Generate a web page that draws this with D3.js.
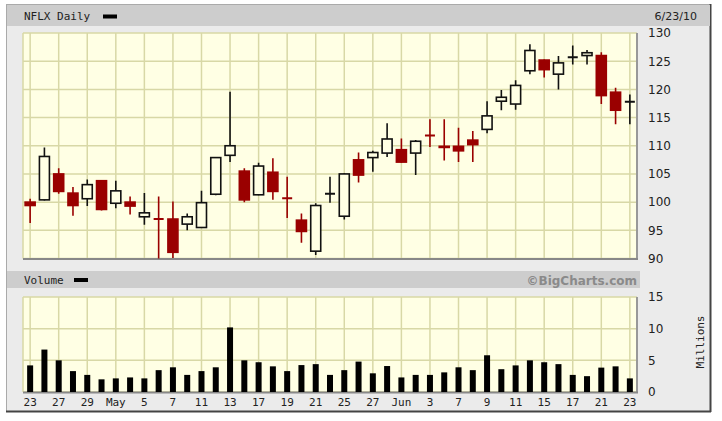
<!DOCTYPE html>
<html><head><meta charset="utf-8">
<script src="https://cdn.jsdelivr.net/npm/d3@7"></script>
<style>html,body{margin:0;padding:0;background:#fff;}svg{display:block;}</style>
</head><body><svg id="c" width="722" height="421"></svg>
<script>
const dates = ["2010-04-23","2010-04-26","2010-04-27","2010-04-28","2010-04-29","2010-04-30","2010-05-03","2010-05-04","2010-05-05","2010-05-06","2010-05-07","2010-05-10","2010-05-11","2010-05-12","2010-05-13","2010-05-14","2010-05-17","2010-05-18","2010-05-19","2010-05-20","2010-05-21","2010-05-24","2010-05-25","2010-05-26","2010-05-27","2010-05-28","2010-06-01","2010-06-02","2010-06-03","2010-06-04","2010-06-07","2010-06-08","2010-06-09","2010-06-10","2010-06-11","2010-06-14","2010-06-15","2010-06-16","2010-06-17","2010-06-18","2010-06-21","2010-06-22","2010-06-23"];
const open  = [100.0,100.4,105.0,101.6,100.6,103.8,99.8,100.0,97.4,97.1,97.0,96.1,95.5,101.4,108.3,105.5,101.3,105.3,100.8,96.8,91.3,101.4,97.5,107.5,107.9,108.7,109.3,108.7,111.9,109.9,109.9,111.0,112.9,117.9,117.4,123.3,125.2,122.7,125.6,126.0,126.0,119.5,117.7];
const high  = [100.6,109.7,106.0,102.7,104.0,103.9,103.8,101.0,101.6,101.0,100.1,98.0,102.0,108.0,119.6,106.0,107.0,107.8,104.5,98.0,99.8,104.5,105.1,108.8,109.1,114.0,111.3,111.0,114.7,114.7,113.2,112.6,117.9,119.9,121.6,128.0,125.3,125.9,127.8,127.0,126.6,120.3,119.1];
const low   = [96.3,100.3,101.5,97.6,99.3,98.5,98.9,97.8,96.0,88.0,90.1,95.0,95.4,101.2,107.1,100.0,101.2,100.4,97.2,92.8,90.6,99.9,96.9,103.5,105.4,108.0,107.0,104.8,109.8,107.4,107.1,107.1,112.2,116.3,116.4,122.7,122.1,120.0,124.4,124.4,117.4,113.8,113.8];
const close = [99.4,108.1,101.9,99.4,103.1,98.7,102.0,99.3,98.1,97.0,91.1,97.4,99.9,107.9,110.0,100.4,106.4,101.9,100.7,94.8,99.4,101.5,105.0,104.8,108.8,111.2,107.1,110.8,111.8,109.7,109.1,110.2,115.3,118.6,120.7,126.9,123.5,124.7,125.7,126.5,118.9,116.3,117.8];
const volume = [4.2,6.7,5.0,3.3,2.7,2.0,2.15,2.3,2.15,3.45,3.9,2.7,3.3,3.9,10.2,5.0,4.7,4.05,3.3,4.25,4.4,2.7,3.45,4.8,2.95,4.1,2.3,2.7,2.7,3.1,3.9,3.45,5.8,3.6,4.2,5.0,4.7,4.4,2.7,2.5,3.85,4.05,2.15];
const xTickLabels = ["23","27","29","May","5","7","11","13","17","19","21","25","27","Jun","3","7","9","11","15","17","21","23"];
const priceTicks = [90,95,100,105,110,115,120,125,130];
const volTicks = [0,5,10,15];

const svg = d3.select("#c");
const BG = "#ffffe4", GRID = "#d8d8a6", RED = "#9a0000", INK = "#111";
const L = 23, R = 637;
const pTop = 33, pBot = 258.5, vTop = 297, vBot = 392;

const x = d3.scaleBand().domain(dates).range([L, R]).paddingInner(0).paddingOuter(0);
const cx = d => x(d) + x.bandwidth() / 2;
const yP = d3.scaleLinear().domain([90, 130]).range([pBot, pTop]);
const yV = d3.scaleLinear().domain([0, 15]).range([vBot, vTop]);

// frame
svg.append("rect").attr("x", 6.5).attr("y", 4.5).attr("width", 704).attr("height", 407).attr("fill", "#ebebeb").attr("stroke", "#aaa");
svg.append("line").attr("x1", 710.5).attr("x2", 710.5).attr("y1", 4).attr("y2", 412).attr("stroke", "#444").attr("stroke-width", 2);
svg.append("line").attr("x1", 6).attr("x2", 711).attr("y1", 411.5).attr("y2", 411.5).attr("stroke", "#444").attr("stroke-width", 2);
// header bars
svg.append("rect").attr("x", 7).attr("y", 5).attr("width", 703).attr("height", 21).attr("fill", "#cdcdcd");
svg.append("rect").attr("x", 7).attr("y", 271).attr("width", 633).attr("height", 17).attr("fill", "#cdcdcd");

const mono = "'DejaVu Sans Mono', monospace", sans = "'DejaVu Sans', Verdana, sans-serif";
svg.append("text").attr("x", 24).attr("y", 20).attr("font-family", mono).attr("font-size", 11).attr("fill", "#222").text("NFLX Daily");
svg.append("rect").attr("x", 103).attr("y", 14.5).attr("width", 14).attr("height", 4).attr("fill", "#000");
svg.append("text").attr("x", 697).attr("y", 20).attr("text-anchor", "end").attr("font-family", sans).attr("font-size", 11).attr("fill", "#222").text("6/23/10");
svg.append("text").attr("x", 24).attr("y", 284).attr("font-family", mono).attr("font-size", 11).attr("fill", "#222").text("Volume");
svg.append("rect").attr("x", 74).attr("y", 278).attr("width", 14).attr("height", 4).attr("fill", "#000");
svg.append("text").attr("x", 637).attr("y", 284.5).attr("text-anchor", "end").attr("font-family", sans).attr("font-weight", "bold").attr("font-size", 12).attr("fill", "#8a8a8a").text("\u00A9BigCharts.com");

// panels
function panel(top, bot, yScale, ticks) {
  const g = svg.append("g");
  g.append("rect").attr("x", L).attr("y", top).attr("width", R - L).attr("height", bot - top).attr("fill", BG);
  g.selectAll(".vg").data(dates.filter((d, i) => i % 2 === 0)).join("line")
    .attr("x1", d => cx(d)).attr("x2", d => cx(d)).attr("y1", top).attr("y2", bot)
    .attr("stroke", GRID).attr("stroke-width", 1.5);
  g.selectAll(".hg").data(ticks).join("line")
    .attr("x1", L).attr("x2", R).attr("y1", d => yScale(d)).attr("y2", d => yScale(d))
    .attr("stroke", GRID).attr("stroke-width", 1.5);
  g.append("line").attr("x1", L).attr("x2", L).attr("y1", top).attr("y2", bot).attr("stroke", GRID).attr("stroke-width", 1.5);
  g.append("line").attr("x1", R).attr("x2", R).attr("y1", top).attr("y2", bot + 1).attr("stroke", "#999").attr("stroke-width", 2);
  g.append("line").attr("x1", L).attr("x2", R + 1).attr("y1", bot + 0.5).attr("y2", bot + 0.5).attr("stroke", "#888").attr("stroke-width", 2);
  // right axis
  const ax = d3.axisRight(yScale).tickValues(ticks).tickSize(0).tickPadding(0);
  const ga = svg.append("g").attr("transform", `translate(648,0)`).call(ax);
  ga.select(".domain").remove();
  ga.selectAll("text").attr("font-family", sans).attr("font-size", 12).attr("fill", "#222").attr("x", 0);
}
panel(pTop, pBot, yP, priceTicks);
panel(vTop, vBot, yV, volTicks);

// candles
svg.append("clipPath").attr("id", "pc").append("rect").attr("x", L).attr("y", pTop).attr("width", R - L).attr("height", pBot - pTop);
const data = dates.map((d, i) => ({d, o: open[i], h: high[i], l: low[i], c: close[i], v: volume[i]}));
const cg = svg.append("g").attr("clip-path", "url(#pc)");
const bw = 10;
const col = d => d.c < d.o ? RED : INK;
cg.selectAll(".wick").data(data).join("line")
  .attr("x1", d => cx(d.d)).attr("x2", d => cx(d.d))
  .attr("y1", d => yP(d.h)).attr("y2", d => yP(d.l))
  .attr("stroke", col).attr("stroke-width", 1.6);
const isDoji = d => Math.abs(d.c - d.o) <= 0.2;
cg.selectAll(".doji").data(data.filter(isDoji)).join("line")
  .attr("x1", d => cx(d.d) - bw / 2).attr("x2", d => cx(d.d) + bw / 2)
  .attr("y1", d => yP(d.c)).attr("y2", d => yP(d.c))
  .attr("stroke", col).attr("stroke-width", 2);
cg.selectAll(".body").data(data.filter(d => !isDoji(d))).join("rect")
  .attr("x", d => cx(d.d) - bw / 2).attr("width", bw)
  .attr("y", d => yP(Math.max(d.o, d.c)))
  .attr("height", d => Math.max(1, Math.abs(yP(d.o) - yP(d.c))))
  .attr("fill", d => d.c < d.o ? RED : BG)
  .attr("stroke", col).attr("stroke-width", 1.6);

// volume bars
svg.append("g").selectAll("rect").data(data).join("rect")
  .attr("x", d => cx(d.d) - 3).attr("width", 6)
  .attr("y", d => yV(d.v)).attr("height", d => yV(0) - yV(d.v))
  .attr("fill", "#000");

// x axis labels
const xAx = d3.axisBottom(x).tickValues(dates.filter((d, i) => i % 2 === 0))
  .tickFormat((d, i) => xTickLabels[i]).tickSize(0).tickPadding(0);
const gx = svg.append("g").attr("transform", `translate(0,${vBot + 6})`).call(xAx);
gx.select(".domain").remove();
gx.selectAll("text").attr("font-family", mono).attr("font-size", 11).attr("fill", "#222");

svg.append("text").attr("transform", "translate(704,342) rotate(-90)").attr("text-anchor", "middle")
  .attr("font-family", mono).attr("font-size", 11).attr("fill", "#222").text("Millions");
</script></body></html>
